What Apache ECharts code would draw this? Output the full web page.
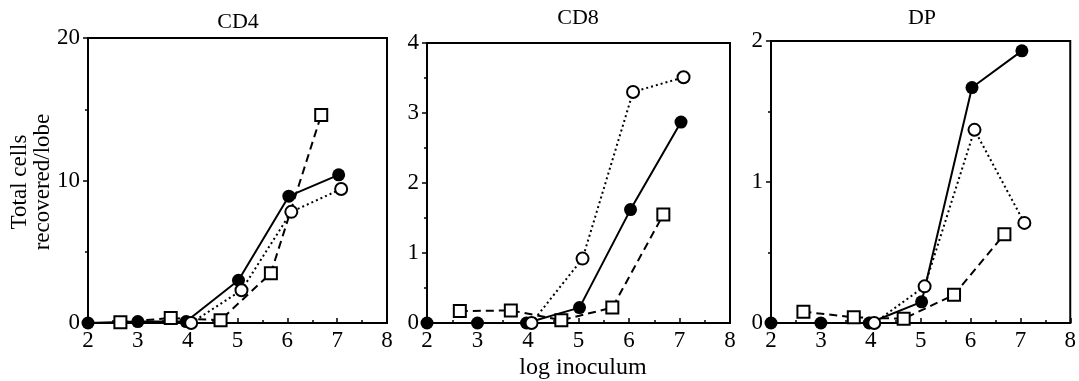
<!DOCTYPE html>
<html>
<head>
<meta charset="utf-8">
<script src="https://cdn.jsdelivr.net/npm/echarts@6/dist/echarts.min.js"></script>
<style>
  html, body { margin: 0; padding: 0; background: #fff; }
  #main { width: 1079px; height: 381px; }
</style>
</head>
<body>
<div id="main"></div>
<script>
// x positions (log inoculum) for each symbol group
const filledX = [2, 3, 3.97, 5.02, 6.03, 7.03];
const openX = [4.07, 5.08, 6.08, 7.08];
const squareX = [2.65, 3.66, 4.66, 5.67, 6.68];

// CD4
const cd4Filled = [0, 0.1, 0.1, 3.0, 8.9, 10.4];
const cd4Open = [0, 2.3, 7.8, 9.4];
const cd4Square = [0.05, 0.35, 0.2, 3.5, 14.6];

// CD8
const cd8Filled = [0, 0, 0, 0.22, 1.62, 2.87];
const cd8Open = [0, 0.92, 3.3, 3.51];
const cd8Square = [0.17, 0.18, 0.04, 0.22, 1.55];

// DP
const dpFilled = [0, 0, 0, 0.15, 1.67, 1.93];
const dpOpen = [0, 0.26, 1.37, 0.71];
const dpSquare = [0.08, 0.04, 0.03, 0.2, 0.63];

const panelTitles = ['CD4', 'CD8', 'DP'];
const yMax = [20, 4, 2];
const yStep = [10, 1, 1];

const font = 'Liberation Serif';
const chart = echarts.init(document.getElementById('main'));

const zip = (xs, ys) => xs.map((x, i) => [x, ys[i]]);

const grids = [
  {left: 88, top: 38, width: 299, height: 285},
  {left: 427, top: 43, width: 303, height: 280},
  {left: 771, top: 41, width: 306, height: 282}
];

const titleX = [238, 578, 922];
const titleY = [11, 7, 7];

const panels = [
  [cd4Filled, cd4Open, cd4Square],
  [cd8Filled, cd8Open, cd8Square],
  [dpFilled, dpOpen, dpSquare]
];

let series = [];
panels.forEach((p, k) => {
  // squares first so circles sit on top
  series.push({
    type: 'line',
    xAxisIndex: k, yAxisIndex: k,
    data: zip(squareX, p[2]),
    symbol: 'rect', symbolSize: 12,
    lineStyle: {color: '#000', width: 2, type: [8, 5]},
    itemStyle: {color: '#fff', borderColor: '#000', borderWidth: 2},
    animation: false
  });
  series.push({
    type: 'line',
    xAxisIndex: k, yAxisIndex: k,
    data: zip(filledX, p[0]),
    symbol: 'circle', symbolSize: 13,
    lineStyle: {color: '#000', width: 2},
    itemStyle: {color: '#000', borderColor: '#000', borderWidth: 0},
    animation: false
  });
  series.push({
    type: 'line',
    xAxisIndex: k, yAxisIndex: k,
    data: zip(openX, p[1]),
    symbol: 'circle', symbolSize: 12,
    lineStyle: {color: '#000', width: 2, type: [2, 3]},
    itemStyle: {color: '#fff', borderColor: '#000', borderWidth: 2},
    animation: false
  });
});

const option = {
  backgroundColor: '#fff',
  textStyle: {fontFamily: font},
  title: panelTitles.map((t, k) => ({
    text: t,
    left: titleX[k],
    top: titleY[k],
    textAlign: 'center',
    padding: 0,
    textStyle: {fontFamily: font, fontSize: 22, fontWeight: 'normal', color: '#000'}
  })),
  grid: grids.map(g => Object.assign({
    show: true, borderColor: '#000', borderWidth: 2, backgroundColor: 'transparent'
  }, g)),
  xAxis: grids.map((g, k) => ({
    type: 'value', gridIndex: k,
    min: 2, max: 8, interval: 1,
    axisLine: {lineStyle: {color: '#000', width: 2}},
    axisTick: {inside: true, length: 5, lineStyle: {color: '#000', width: 1.5}},
    minorTick: {show: true, splitNumber: 2, length: 3, lineStyle: {color: '#000', width: 1.5}},
    splitLine: {show: false},
    axisLabel: {color: '#000', fontFamily: font, fontSize: 23, margin: 6}
  })),
  yAxis: grids.map((g, k) => ({
    type: 'value', gridIndex: k,
    min: 0, max: yMax[k], interval: yStep[k],
    axisLine: {lineStyle: {color: '#000', width: 2}},
    axisTick: {inside: false, length: 5, lineStyle: {color: '#000', width: 1.5}},
    minorTick: {show: true, splitNumber: 2, length: 3, lineStyle: {color: '#000', width: 1.5}},
    splitLine: {show: false},
    axisLabel: {color: '#000', fontFamily: font, fontSize: 23, margin: 8}
  })),
  graphic: [
    {
      type: 'text',
      x: 31, y: 182,
      rotation: Math.PI / 2,
      style: {
        text: 'Total cells\nrecovered/lobe',
        font: '23px "Liberation Serif"',
        fill: '#000',
        align: 'center',
        verticalAlign: 'middle',
        lineHeight: 23
      }
    },
    {
      type: 'text',
      x: 583, y: 368,
      style: {
        text: 'log inoculum',
        font: '24px "Liberation Serif"',
        fill: '#000',
        align: 'center',
        verticalAlign: 'middle'
      }
    }
  ],
  series: series
};

chart.setOption(option);
</script>
</body>
</html>
